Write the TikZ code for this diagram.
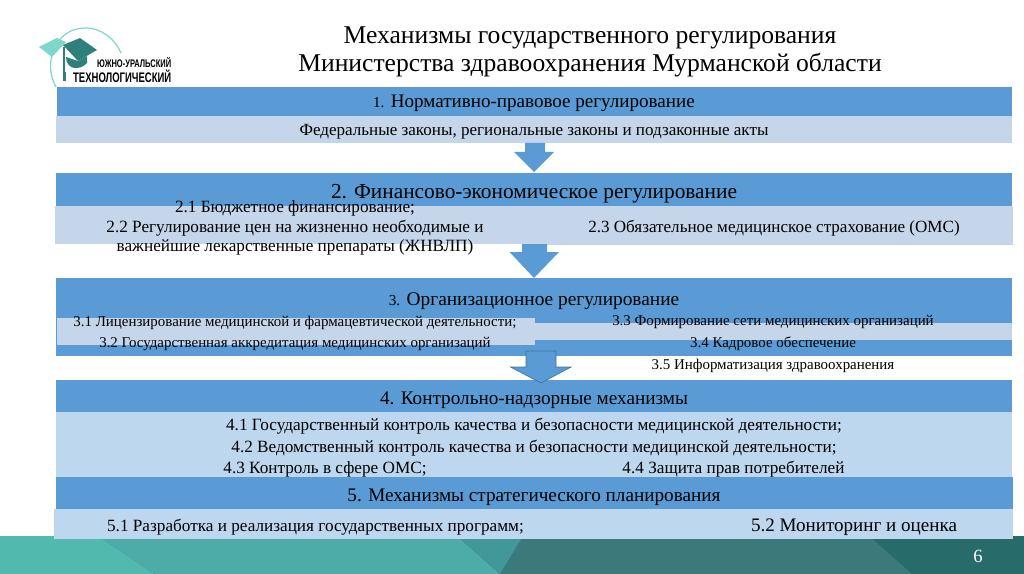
\documentclass[tikz,border=0pt]{standalone}
\usepackage{fontspec}
\setmainfont{Liberation Serif}
\newfontfamily\logofont{Liberation Sans}
\definecolor{head}{HTML}{5B9BD5}
\definecolor{sub}{HTML}{C5D5EA}
\definecolor{subb}{HTML}{BDD7EE}
\definecolor{arrowline}{HTML}{41719C}
\definecolor{teala}{HTML}{51B9AE}
\definecolor{tealb}{HTML}{4DABA8}
\definecolor{tealc}{HTML}{429799}
\definecolor{teald}{HTML}{3A7A7B}
\definecolor{teale}{HTML}{276B6B}
\definecolor{capdark}{HTML}{2F7F7B}
\definecolor{caplight}{HTML}{7FD6CB}
\tikzset{head/.style={fill=head,draw=none,rectangle,anchor=north west,inner sep=0pt,text=black}}
\tikzset{sub/.style={fill=sub,draw=none,rectangle,anchor=north west,inner sep=0pt}}
\tikzset{subb/.style={fill=subb,draw=none,rectangle,anchor=north west,inner sep=0pt}}
\tikzset{lbl/.style={inner sep=0pt,text=black,align=center}}
\tikzset{darr/.style={fill=head,draw=none}}
\begin{document}
\begin{tikzpicture}[x=0.75pt,y=-0.75pt]
    \useasboundingbox (0,0) rectangle (1024,574);

    % bottom strip
    \fill[teale] (0,536) rectangle (1024,574);
    \fill[teald] (523,536) -- (869,536) -- (912,574) -- (500,574) -- cycle;
    \fill[tealb] (98,536) -- (457,536) -- (500,574) -- (154,574) -- cycle;
    \fill[tealc] (457,536) -- (523,536) -- (500,574) -- cycle;
    \fill[teala] (0,536) -- (98,536) -- (154,574) -- (0,574) -- cycle;
    \node[lbl,text=white,font=\fontsize{14}{16}\selectfont] (page) at (978,556) {6};

    % logo
    \draw[caplight,line width=0.9pt] (56,87) .. controls (42,62) and (56,28) .. (85,28) .. controls (102,28) and (115,39) .. (121,53);
    \fill[caplight] (39,47) -- (57,38) -- (66,42) -- (52,57) -- cycle;
    \fill[capdark] (63,45) -- (80,38) -- (97,50) -- (78,61) -- cycle;
    \fill[capdark] (66,57) .. controls (66,70) and (80,71) .. (87,63) -- (87,56) -- (78,61) -- cycle;
    \fill[capdark] (63,47) rectangle (65,73);
    \fill[capdark] (62.5,72) rectangle (66,81);
    \node[lbl,font=\logofont\bfseries\fontsize{8.3}{9}\selectfont,anchor=west,xscale=0.68] (logoa) at (97,63) {ЮЖНО-УРАЛЬСКИЙ};
    \node[lbl,font=\logofont\bfseries\fontsize{10.4}{11}\selectfont,anchor=west,xscale=0.685] (logob) at (73,76) {ТЕХНОЛОГИЧЕСКИЙ};

    % title
    \node[lbl,font=\fontsize{19.2}{21}\selectfont] (title) at (590,52)
    {Механизмы государственного регулирования\\Министерства здравоохранения Мурманской области};

    % block 1
    \node[head,minimum width=955pt*0.75,minimum height=29pt*0.75] (headone) at (57,87) {};
    \node[sub,minimum width=956pt*0.75,minimum height=27pt*0.75] (subone) at (56,116) {};
    \node[lbl,font=\fontsize{14.3}{16}\selectfont] (headonet) at (534,103) {{\fontsize{11.3}{16}\selectfont 1.} Нормативно-правовое регулирование};
    \node[lbl,font=\fontsize{12.8}{15}\selectfont] (subonet) at (534,131.5) {Федеральные законы, региональные законы и подзаконные акты};

    % block 2
    \node[head,minimum width=956pt*0.75,minimum height=33.3pt*0.75] (headtwo) at (56,172.7) {};
    \node[sub,minimum width=480pt*0.75,minimum height=38pt*0.75] (subtwol) at (55,206) {};
    \node[sub,minimum width=478pt*0.75,minimum height=39pt*0.75] (subtwor) at (535,206) {};
    \node[lbl,font=\fontsize{16}{18}\selectfont] (headtwot) at (534,193.5) {2. Финансово-экономическое регулирование};
    \node[lbl,font=\fontsize{12.9}{14.6}\selectfont] (subtwolt) at (295,228)
    {2.1 Бюджетное финансирование;\\2.2 Регулирование цен на жизненно необходимые и\\важнейшие лекарственные препараты (ЖНВЛП)};
    \node[lbl,font=\fontsize{12.8}{15}\selectfont] (subtwort) at (774,228.5) {2.3 Обязательное медицинское страхование (ОМС)};

    % block 3
    \node[head,minimum width=956pt*0.75,minimum height=78pt*0.75] (headthree) at (56,278) {};
    \node[sub,minimum width=477pt*0.75,minimum height=17pt*0.75] (subthreer) at (535,323) {};
    \node[sub,minimum width=478.5pt*0.75,minimum height=27.3pt*0.75] (subthreel) at (56.5,317.7) {};
    \node[lbl,font=\fontsize{14.5}{16}\selectfont] (headthreet) at (534,301) {{\fontsize{11.5}{16}\selectfont 3.} Организационное регулирование};
    \node[lbl,font=\fontsize{11.2}{16.2}\selectfont] (subthreelt) at (295,333.5)
    {3.1 Лицензирование медицинской и фармацевтической деятельности;\\3.2 Государственная аккредитация медицинских организаций};
    \node[lbl,font=\fontsize{11.2}{16.2}\selectfont] (subthreert) at (773,344)
    {3.3 Формирование сети медицинских организаций\\3.4 Кадровое обеспечение\\3.5 Информатизация здравоохранения};

    % block 4
    \node[head,minimum width=956pt*0.75,minimum height=32pt*0.75] (headfour) at (56,380) {};
    \node[subb,minimum width=956pt*0.75,minimum height=65pt*0.75] (subfour) at (56,412) {};
    \node[lbl,font=\fontsize{14.4}{16}\selectfont] (headfourt) at (534,400) {4. Контрольно-надзорные механизмы};
    \node[lbl,font=\fontsize{12.9}{16.5}\selectfont] (subfourt) at (534,437.5)
    {4.1 Государственный контроль качества и безопасности медицинской деятельности;\\4.2 Ведомственный контроль качества и безопасности медицинской деятельности;};
    \node[lbl,font=\fontsize{12.9}{15}\selectfont] (subfourc) at (325,469) {4.3 Контроль в сфере ОМС;};
    \node[lbl,font=\fontsize{12.9}{15}\selectfont] (subfourd) at (733.5,469) {4.4 Защита прав потребителей};

    % block 5
    \node[head,minimum width=957pt*0.75,minimum height=32pt*0.75] (headfive) at (56,477) {};
    \node[subb,minimum width=959pt*0.75,minimum height=30pt*0.75] (subfive) at (54,509) {};
    \node[lbl,font=\fontsize{14.4}{16}\selectfont] (headfivet) at (534,497) {5. Механизмы стратегического планирования};
    \node[lbl,font=\fontsize{12.9}{15}\selectfont] (subfivea) at (315.5,527) {5.1 Разработка и реализация государственных программ;};
    \node[lbl,font=\fontsize{14.3}{16}\selectfont] (subfiveb) at (854,527) {5.2 Мониторинг и оценка};

    % arrows
    \fill[darr] (525,143) -- (545,143) -- (545,152) -- (554,152) -- (534,172) -- (514,152) -- (525,152) -- cycle;
    \fill[darr] (522,244) -- (547,244) -- (547,252) -- (559,252) -- (534,278) -- (509.5,252) -- (522,252) -- cycle;
    \draw[fill=head,draw=arrowline,line width=0.5pt] (526,351) -- (556,351) -- (556,367) -- (571,367) -- (541,383) -- (510.5,367) -- (526,367) -- cycle;
\end{tikzpicture}
\end{document}
